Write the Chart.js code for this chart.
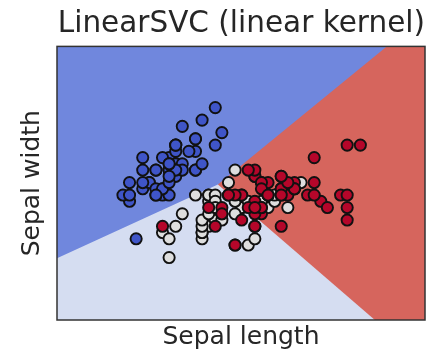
<!DOCTYPE html>
<html>
<head>
<meta charset="utf-8">
<script src="https://cdn.jsdelivr.net/npm/chart.js@4"></script>
<style>
  body { margin: 0; background: #fff; }
  #wrap { width: 438px; height: 355px; }
</style>
</head>
<body>
<div id="wrap"><canvas id="chart" width="438" height="355"></canvas></div>
<script>
// iris, first two features (sepal length, sepal width)
const setosaLength = [5.1,4.9,4.7,4.6,5.0,5.4,4.6,5.0,4.4,4.9,5.4,4.8,4.8,4.3,5.8,5.7,5.4,5.1,5.7,5.1,5.4,5.1,4.6,5.1,4.8,5.0,5.0,5.2,5.2,4.7,4.8,5.4,5.2,5.5,4.9,5.0,5.5,4.9,4.4,5.1,5.0,4.5,4.4,5.0,5.1,4.8,5.1,4.6,5.3,5.0];
const setosaWidth = [3.5,3.0,3.2,3.1,3.6,3.9,3.4,3.4,2.9,3.1,3.7,3.4,3.0,3.0,4.0,4.4,3.9,3.5,3.8,3.8,3.4,3.7,3.6,3.3,3.4,3.0,3.4,3.5,3.4,3.2,3.1,3.4,4.1,4.2,3.1,3.2,3.5,3.6,3.0,3.4,3.5,2.3,3.2,3.5,3.8,3.0,3.8,3.2,3.7,3.3];
const versicolorLength = [7.0,6.4,6.9,5.5,6.5,5.7,6.3,4.9,6.6,5.2,5.0,5.9,6.0,6.1,5.6,6.7,5.6,5.8,6.2,5.6,5.9,6.1,6.3,6.1,6.4,6.6,6.8,6.7,6.0,5.7,5.5,5.5,5.8,6.0,5.4,6.0,6.7,6.3,5.6,5.5,5.5,6.1,5.8,5.0,5.6,5.7,5.7,6.2,5.1,5.7];
const versicolorWidth = [3.2,3.2,3.1,2.3,2.8,2.8,3.3,2.4,2.9,2.7,2.0,3.0,2.2,2.9,2.9,3.1,3.0,2.7,2.2,2.5,3.2,2.8,2.5,2.8,2.9,3.0,2.8,3.0,2.9,2.6,2.4,2.4,2.7,2.7,3.0,3.4,3.1,2.3,3.0,2.5,2.6,3.0,2.6,2.3,2.7,3.0,2.9,2.9,2.5,2.8];
const virginicaLength = [6.3,5.8,7.1,6.3,6.5,7.6,4.9,7.3,6.7,7.2,6.5,6.4,6.8,5.7,5.8,6.4,6.5,7.7,7.7,6.0,6.9,5.6,7.7,6.3,6.7,7.2,6.2,6.1,6.4,7.2,7.4,7.9,6.4,6.3,6.1,7.7,6.3,6.4,6.0,6.9,6.7,6.9,5.8,6.8,6.7,6.7,6.3,6.5,6.2,5.9];
const virginicaWidth = [3.3,2.7,3.0,2.9,3.0,3.0,2.5,2.9,2.5,3.6,3.2,2.7,3.0,2.5,2.8,3.2,3.0,3.8,2.6,2.2,3.2,2.8,2.8,2.7,3.3,3.2,2.8,3.0,2.8,3.0,2.8,3.8,2.8,2.8,2.6,3.0,3.4,3.1,3.0,3.1,3.1,3.1,2.7,3.2,3.3,3.0,2.5,3.0,3.4,3.0];

// plotted range of the mesh
const xRange = [3.3, 8.88];
const yRange = [1.0, 5.38];

// decision boundaries (vertices in data units)
const blueEdgeX = [3.3, 5.74, 8.30, 8.88];
const blueEdgeY = [1.99, 3.17, 5.38, 5.38];
const redEdgeX = [5.74, 8.12, 8.88];
const redEdgeY = [3.17, 1.0, 1.0];

const pts = (xs, ys) => xs.map((x, i) => ({ x: x, y: ys[i] }));

const region = (data, color, fill, order) => ({
  data: data,
  backgroundColor: color,
  borderWidth: 0,
  pointRadius: 0,
  fill: fill,
  tension: 0,
  order: order,
});

const points = (data, color, order) => ({
  data: data,
  showLine: false,
  pointRadius: 5.6,
  pointHoverRadius: 5.6,
  pointBackgroundColor: color,
  pointBorderColor: "#111",
  pointBorderWidth: 1.9,
  order: order,
});

const frame = {
  id: "frame",
  afterDraw(chart) {
    const { ctx, chartArea: a } = chart;
    ctx.save();
    ctx.strokeStyle = "#333";
    ctx.lineWidth = 1.5;
    ctx.strokeRect(a.left, a.top, a.right - a.left, a.bottom - a.top);
    ctx.restore();
  },
};

new Chart(document.getElementById("chart"), {
  type: "line",
  data: {
    datasets: [
      points(pts(virginicaLength, virginicaWidth), "#b5062a", 0),
      points(pts(versicolorLength, versicolorWidth), "#dedede", 1),
      points(pts(setosaLength, setosaWidth), "#3f55c8", 2),
      region(pts(blueEdgeX, blueEdgeY), "#7087dd", "end", 3),
      region(pts(redEdgeX, redEdgeY), "#d6655d", "end", 4),
      region(pts(xRange, [yRange[1], yRange[1]]), "#d5ddf1", "start", 5),
    ],
  },
  options: {
    responsive: false,
    animation: false,
    layout: { padding: { left: 17, right: 13, top: 0, bottom: 3 } },
    plugins: {
      legend: { display: false },
      tooltip: { enabled: false },
      title: {
        display: true,
        align: "end",
        text: "LinearSVC (linear kernel)",
        color: "#262626",
        font: { family: "DejaVu Sans", size: 29.5, weight: "normal" },
        padding: { top: 7, bottom: 4 },
      },
    },
    scales: {
      x: {
        type: "linear",
        min: xRange[0],
        max: xRange[1],
        ticks: { display: false },
        grid: { display: false, drawTicks: false },
        border: { display: false },
        title: {
          display: true,
          text: "Sepal length",
          color: "#262626",
          font: { family: "DejaVu Sans", size: 25 },
          padding: { top: 2, bottom: 0 },
        },
      },
      y: {
        type: "linear",
        min: yRange[0],
        max: yRange[1],
        ticks: { display: false },
        grid: { display: false, drawTicks: false },
        border: { display: false },
        title: {
          display: true,
          text: "Sepal width",
          color: "#262626",
          font: { family: "DejaVu Sans", size: 25 },
          padding: { top: 0, bottom: 10 },
        },
      },
    },
  },
  plugins: [frame],
});
</script>
</body>
</html>
